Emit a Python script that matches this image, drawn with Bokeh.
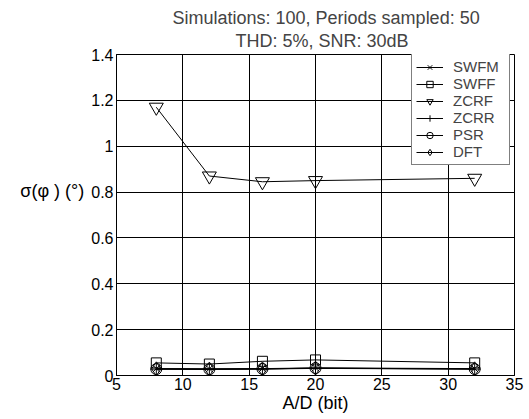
from bokeh.plotting import figure
from bokeh.embed import file_html
from bokeh.resources import INLINE
from bokeh.models import Range1d, FixedTicker, Legend, LegendItem, Title

bits = [8, 12, 16, 20, 32]
swfm = [0.030, 0.029, 0.030, 0.033, 0.030]
swff = [0.055, 0.050, 0.062, 0.068, 0.055]
zcrf = [1.17, 0.87, 0.845, 0.850, 0.860]
zcrr = [0.028, 0.027, 0.028, 0.031, 0.028]
psr = [0.028, 0.027, 0.029, 0.032, 0.028]
dft = [0.029, 0.028, 0.029, 0.032, 0.029]

x_ticks = [5, 10, 15, 20, 25, 30, 35]
y_ticks = [0, 0.2, 0.4, 0.6, 0.8, 1.0, 1.2, 1.4]
y_tick_labels = ["0", "0.2", "0.4", "0.6", "0.8", "1", "1.2", "1.4"]

title1 = "Simulations: 100, Periods sampled: 50"
title2 = "THD: 5%, SNR: 30dB"
x_label = "A/D (bit)"
y_label = "σ(φ ) (°)"

FONT = "Liberation Sans"

p = figure(width=529, height=419, output_backend="svg", toolbar_location=None,
           x_range=Range1d(5, 35), y_range=Range1d(0, 1.4),
           min_border_left=116, min_border_right=15, min_border_top=54, min_border_bottom=44)
p.background_fill_color = "white"
p.border_fill_color = "white"
p.outline_line_color = "black"
p.outline_line_width = 1

for ax in (p.xaxis[0], p.yaxis[0]):
    ax.major_tick_in = 5
    ax.major_tick_out = 0
    ax.minor_tick_in = 0
    ax.minor_tick_out = 0
    ax.major_label_text_font = FONT
    ax.major_label_text_font_size = "16px"
    ax.major_label_text_color = "black"
    ax.axis_line_color = "black"
    ax.major_tick_line_color = "black"
    ax.axis_label_text_font = FONT
    ax.axis_label_text_font_size = "18px"
    ax.axis_label_text_font_style = "normal"
    ax.axis_label_text_color = "black"

p.xaxis[0].ticker = FixedTicker(ticks=x_ticks)
p.yaxis[0].ticker = FixedTicker(ticks=y_ticks)
p.yaxis[0].major_label_overrides = {t: l for t, l in zip(y_ticks, y_tick_labels)}
p.xaxis[0].major_label_standoff = 2
p.yaxis[0].major_label_standoff = 3
p.xaxis[0].axis_label = x_label
p.xaxis[0].axis_label_standoff = 0
p.yaxis[0].axis_label = y_label + "\n\n"
p.yaxis[0].axis_label_orientation = "horizontal"
p.yaxis[0].axis_label_standoff = 4

p.xgrid.ticker = FixedTicker(ticks=x_ticks)
p.ygrid.ticker = FixedTicker(ticks=y_ticks)
for g in (p.xgrid[0], p.ygrid[0]):
    g.grid_line_color = "black"
    g.grid_line_width = 1
    g.grid_line_alpha = 1.0

series = [
    ("SWFM", swfm, "x", 10),
    ("SWFF", swff, "square", 10),
    ("ZCRF", zcrf, "inverted_triangle", 14),
    ("ZCRR", zcrr, "cross", 12),
    ("PSR", psr, "circle", 11),
    ("DFT", dft, "diamond", 14),
]
items = []
for name, ys, mk, sz in series:
    r1 = p.line(bits, ys, line_color="black", line_width=1)
    r2 = p.scatter(bits, ys, marker=mk, size=sz, line_color="black",
                   fill_color=None, line_width=1)
    items.append(LegendItem(label=name, renderers=[r1, r2]))

legend = Legend(items=items, location=(295, 210), margin=0,
                label_text_font=FONT, label_text_font_size="15px",
                glyph_width=27, glyph_height=16, spacing=0, padding=4,
                label_standoff=10, label_height=16, label_width=52,
                border_line_color="black", border_line_width=1.5,
                background_fill_color="white", background_fill_alpha=1.0)
p.add_layout(legend, "center")

p.add_layout(Title(text=title2, align="left", offset=119, standoff=8,
                   text_font=FONT, text_font_size="18px", text_font_style="normal"), "above")
p.add_layout(Title(text=title1, align="left", offset=56, standoff=-6,
                   text_font=FONT, text_font_size="18px", text_font_style="normal"), "above")

open("out.html", "w").write(file_html(p, INLINE))
